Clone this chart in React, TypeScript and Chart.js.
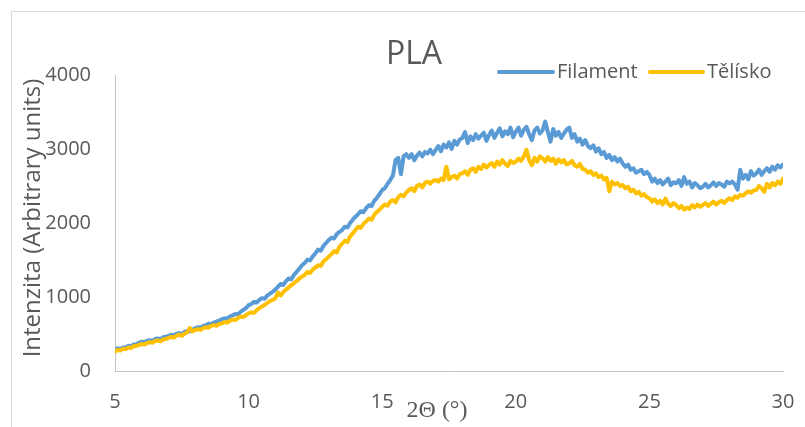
import { useEffect, useRef } from "react";
import { Chart, registerables } from "chart.js";

Chart.register(...registerables);

const TITLE = "PLA";
const SERIES_NAMES = ["Filament", "Tělísko"];
const SERIES_COLORS = ["#5b9bd5", "#ffc000"];
const X_TITLE = "2Θ (°)";
const Y_TITLE = "Intenzita (Arbitrary units)";
const X_MIN = 5;
const X_MAX = 30;
const X_STEP_TICK = 5;
const Y_MIN = 0;
const Y_MAX = 4000;
const Y_STEP_TICK = 1000;

// sampling grid of the scan (2Θ start and step, degrees)
const ANGLE_START = 5;
const ANGLE_STEP = 0.1;

const filament = [
  290, 305, 298, 318, 322, 340, 335, 358, 362, 380,
  396, 388, 410, 415, 405, 432, 440, 430, 455, 462,
  475, 490, 482, 505, 512, 498, 530, 542, 535, 560,
  577, 592, 585, 610, 618, 640, 632, 655, 668, 682,
  700, 712, 705, 738, 752, 770, 762, 800, 825, 850,
  890, 905, 935, 925, 960, 985, 975, 1020, 1045, 1070,
  1100, 1140, 1175, 1165, 1215, 1250, 1240, 1300, 1340, 1385,
  1430, 1460, 1505, 1495, 1550, 1590, 1640, 1625, 1690, 1730,
  1770, 1800, 1790, 1850, 1880, 1905, 1950, 1940, 2000, 2045,
  2085, 2120, 2160, 2145, 2200, 2240, 2230, 2300, 2340, 2390,
  2446, 2470, 2530, 2580, 2640, 2850, 2880, 2660, 2900, 2930,
  2880, 2930, 2850, 2910, 2950, 2900, 2960, 2940, 2990, 2930,
  2986, 3040, 2970, 3060, 3020, 3090, 3000, 3110, 3060, 3130,
  3150, 3230, 3080, 3170, 3120, 3200, 3140, 3180, 3220, 3110,
  3190, 3250, 3150, 3220, 3280, 3170, 3240, 3200, 3290, 3160,
  3235, 3290, 3180, 3260, 3300, 3200, 3120, 3250, 3290, 3210,
  3250, 3370, 3230, 3100, 3270, 3180, 3230, 3150, 3210, 3260,
  3290, 3150, 3200, 3100, 3140, 3060, 3120, 3040, 3010, 3050,
  2965, 3010, 2930, 2960, 2880, 2920, 2850, 2890, 2830, 2870,
  2805, 2760, 2790, 2720, 2740, 2680, 2700, 2720, 2660, 2690,
  2650, 2560, 2600, 2540, 2580, 2520, 2560, 2600, 2510, 2550,
  2536, 2580, 2500, 2620, 2530, 2560, 2480, 2540, 2510, 2470,
  2490, 2530, 2480, 2510, 2550, 2500, 2540, 2520, 2490, 2560,
  2536, 2560, 2520, 2450, 2720, 2600, 2650, 2590, 2700, 2640,
  2670, 2720, 2650, 2700, 2740, 2690, 2760, 2720, 2780, 2750,
  2790,
];

const telisko = [
  265, 285, 278, 300, 295, 318, 310, 335, 340, 352,
  365, 358, 378, 390, 382, 405, 412, 400, 425, 435,
  446, 460, 452, 478, 490, 475, 505, 520, 580, 535,
  554, 565, 555, 580, 592, 585, 610, 620, 612, 635,
  644, 660, 652, 680, 695, 688, 715, 735, 728, 755,
  779, 792, 785, 820, 850, 870, 895, 920, 945, 960,
  982, 1060, 1020, 1070, 1100, 1130, 1160, 1190, 1215, 1250,
  1275, 1300, 1340, 1325, 1370, 1400, 1430, 1420, 1480, 1510,
  1545, 1580, 1620, 1600, 1680, 1720, 1760, 1745, 1820, 1860,
  1905, 1950, 1935, 1990, 2020, 2060, 2045, 2110, 2150, 2180,
  2220, 2250, 2235, 2290, 2310, 2280, 2350, 2380, 2360, 2410,
  2446, 2470, 2430, 2500, 2520, 2480, 2540, 2560, 2530, 2570,
  2581, 2560, 2600, 2580, 2760, 2590, 2620, 2640, 2600, 2660,
  2671, 2700, 2650, 2720, 2740, 2690, 2760, 2730, 2790, 2750,
  2784, 2810, 2760, 2830, 2790, 2850, 2800, 2770, 2840, 2810,
  2829, 2870, 2840, 2900, 2990, 2850, 2780, 2880, 2830, 2900,
  2874, 2830, 2890, 2840, 2870, 2800, 2860, 2820, 2850, 2790,
  2806, 2840, 2780, 2760, 2800, 2730, 2720, 2680, 2700, 2650,
  2671, 2620, 2640, 2590, 2610, 2430, 2560, 2520, 2540, 2500,
  2514, 2470, 2490, 2430, 2450, 2400, 2420, 2370, 2390, 2350,
  2334, 2290, 2320, 2270, 2300, 2250, 2330, 2260, 2230, 2270,
  2243, 2200, 2230, 2180, 2210, 2190, 2240, 2210, 2250, 2220,
  2243, 2270, 2230, 2260, 2290, 2250, 2280, 2300, 2270, 2310,
  2334, 2310, 2360, 2340, 2380, 2370, 2400, 2430, 2410, 2440,
  2446, 2500, 2470, 2420, 2530, 2480, 2540, 2510, 2560, 2530,
  2600,
];

const TEXT_COLOR = "#595959";
const FONT = '"Open Sans", "Noto Sans", sans-serif';

const toPoints = (vals: number[]) =>
  vals.map((v, i) => ({ x: ANGLE_START + i * ANGLE_STEP, y: v }));

const decorPlugin = {
  id: "decor",
  afterDraw(chart: any) {
    const ctx = chart.ctx as CanvasRenderingContext2D;
    const ca = chart.chartArea;
    ctx.save();
    // outer chart frame
    ctx.strokeStyle = "#d9d9d9";
    ctx.lineWidth = 1;
    ctx.strokeRect(11.5, 11.5, chart.width + 40, chart.height + 40);

    ctx.fillStyle = TEXT_COLOR;
    // title
    ctx.font = `32px ${FONT}`;
    ctx.textAlign = "center";
    ctx.textBaseline = "middle";
    ctx.fillText(TITLE, 414, 55);

    // legend
    ctx.font = `20px ${FONT}`;
    ctx.textAlign = "left";
    const legendY = 72;
    const items = [
      { x0: 499, x1: 553, tx: 557 },
      { x0: 650, x1: 703, tx: 707 },
    ];
    items.forEach((it, i) => {
      ctx.strokeStyle = SERIES_COLORS[i];
      ctx.lineWidth = 4;
      ctx.lineCap = "round";
      ctx.beginPath();
      ctx.moveTo(it.x0, legendY);
      ctx.lineTo(it.x1, legendY);
      ctx.stroke();
      ctx.fillStyle = TEXT_COLOR;
      ctx.fillText(SERIES_NAMES[i], it.tx, legendY);
    });

    // y title
    ctx.save();
    ctx.translate(33, (ca.top + ca.bottom) / 2 - 5);
    ctx.rotate(-Math.PI / 2);
    ctx.font = `24px ${FONT}`;
    ctx.textAlign = "center";
    ctx.textBaseline = "middle";
    ctx.fillText(Y_TITLE, 0, 0);
    ctx.restore();

    // x title
    ctx.font = `24px "Liberation Serif", "DejaVu Serif", serif`;
    ctx.textAlign = "center";
    ctx.textBaseline = "middle";
    ctx.fillText(X_TITLE, 437, 411);
    ctx.restore();
  },
};

export default function App() {
  const ref = useRef<HTMLCanvasElement | null>(null);
  useEffect(() => {
    if (!ref.current) return;
    const lineStyle = {
      borderWidth: 4,
      pointRadius: 0,
      tension: 0,
      borderJoinStyle: "round" as const,
      borderCapStyle: "round" as const,
    };
    const chart = new Chart(ref.current, {
      type: "line",
      data: {
        datasets: [
          {
            label: SERIES_NAMES[0],
            data: toPoints(filament),
            borderColor: SERIES_COLORS[0],
            backgroundColor: SERIES_COLORS[0],
            ...lineStyle,
            order: 2,
          },
          {
            label: SERIES_NAMES[1],
            data: toPoints(telisko),
            borderColor: SERIES_COLORS[1],
            backgroundColor: SERIES_COLORS[1],
            ...lineStyle,
            order: 1,
          },
        ],
      },
      options: {
        responsive: false,
        animation: false,
        devicePixelRatio: 1,
        layout: { padding: { left: 0, top: 75, right: 22, bottom: 0 } },
        plugins: {
          legend: { display: false },
          title: { display: false },
          tooltip: { enabled: false },
        },
        scales: {
          x: {
            type: "linear",
            min: X_MIN,
            max: X_MAX,
            afterFit: (s: any) => {
              s.height = 56;
              s.paddingLeft = 0;
              s.paddingRight = 0;
            },
            grid: { display: false, drawTicks: false },
            border: { display: true, color: "#c6c6c6", width: 1 },
            ticks: {
              stepSize: X_STEP_TICK,
              color: TEXT_COLOR,
              font: { family: FONT, size: 20 },
              padding: 19,
              maxRotation: 0,
              callback: (v: any) => String(v),
            },
          },
          y: {
            type: "linear",
            min: Y_MIN,
            max: Y_MAX,
            afterFit: (s: any) => {
              s.width = 115;
              s.paddingTop = 0;
              s.paddingBottom = 0;
            },
            grid: { display: false, drawTicks: false },
            border: { display: true, color: "#c6c6c6", width: 1 },
            ticks: {
              stepSize: Y_STEP_TICK,
              color: TEXT_COLOR,
              font: { family: FONT, size: 20 },
              padding: 24,
              callback: (v: any) => String(v),
            },
          },
        },
      },
      plugins: [decorPlugin],
    });
    return () => chart.destroy();
  }, []);

  return (
    <div style={{ position: "fixed", left: 0, top: 0, width: 805, height: 427, background: "#fff" }}>
      <canvas ref={ref} width={805} height={427} style={{ display: "block" }} />
    </div>
  );
}
